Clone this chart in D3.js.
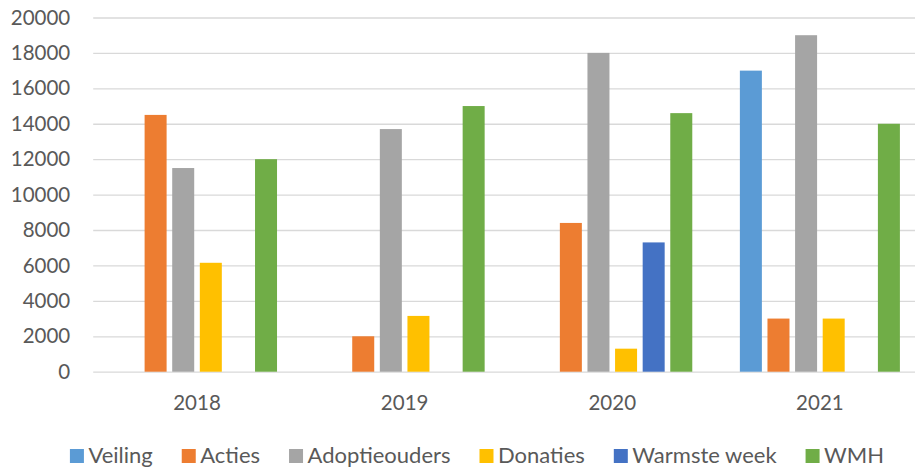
<!DOCTYPE html>
<html>
<head>
<meta charset="utf-8">
<script src="https://cdn.jsdelivr.net/npm/d3@7/dist/d3.min.js"></script>
<style>
  html, body { margin: 0; padding: 0; background: #fff; }
  svg { display: block; }
  text { font-family: Lato, "Open Sans", sans-serif; fill: #595959; }
</style>
</head>
<body>
<svg id="chart" width="915" height="469"></svg>
<script>
const years = ["2018", "2019", "2020", "2021"];
const seriesNames = ["Veiling", "Acties", "Adoptieouders", "Donaties", "Warmste week", "WMH"];
const veiling       = [null, null, null, 17000];
const acties        = [14500, 2000, 8400, 3000];
const adoptieouders = [11500, 13700, 18000, 19000];
const donaties      = [6150, 3150, 1300, 3000];
const warmsteWeek   = [null, null, 7300, null];
const wmh           = [12000, 15000, 14600, 14000];
const seriesColors  = ["#5B9BD5", "#ED7D31", "#A5A5A5", "#FFC000", "#4472C4", "#70AD47"];
const yTicks = [0, 2000, 4000, 6000, 8000, 10000, 12000, 14000, 16000, 18000, 20000];

const seriesValues = [veiling, acties, adoptieouders, donaties, warmsteWeek, wmh];

const svg = d3.select("#chart");
const fontSize = 20.5;

const x0 = d3.scaleBand().domain(years).range([93.2, 923.7]).padding(0);
const x1 = d3.scaleBand().domain(seriesNames).range([0, x0.bandwidth()])
  .paddingInner(0.203).paddingOuter(0.862);
const y = d3.scaleLinear().domain([0, 20000]).range([371.7, 17.5]);

// gridlines
const yAxis = d3.axisLeft(y).tickValues(yTicks).tickSize(-(915 - 93.2)).tickFormat(d => d).tickPadding(23);
const gy = svg.append("g").attr("transform", "translate(93.2,0)").call(yAxis);
gy.select(".domain").remove();
gy.selectAll(".tick line").attr("stroke", "#d9d9d9").attr("stroke-width", 1.3);
gy.selectAll(".tick text").attr("font-size", fontSize).attr("fill", "#595959")
  .style("font-family", "Lato, 'Open Sans', sans-serif");

// bars
const groups = svg.append("g").selectAll("g").data(years).join("g")
  .attr("transform", d => `translate(${x0(d)},0)`);
groups.selectAll("rect")
  .data((yr, i) => seriesNames.map((s, k) => ({ s, k, v: seriesValues[k][i] })).filter(d => d.v != null))
  .join("rect")
  .attr("x", d => x1(d.s))
  .attr("width", x1.bandwidth())
  .attr("y", d => y(d.v))
  .attr("height", d => y(0) - y(d.v))
  .attr("fill", d => seriesColors[d.k]);

// x axis labels
const xAxis = d3.axisBottom(x0).tickSize(0).tickPadding(0);
const gx = svg.append("g").attr("transform", `translate(0,${y(0)})`).call(xAxis);
gx.select(".domain").remove();
gx.selectAll(".tick text").attr("font-size", fontSize).attr("fill", "#595959")
  .attr("dy", null).attr("y", 38.3)
  .style("font-family", "Lato, 'Open Sans', sans-serif");

// legend
const legend = svg.append("g");
const items = legend.selectAll("g").data(seriesNames).join("g");
items.append("rect").attr("width", 14).attr("height", 14).attr("y", 449)
  .attr("fill", (d, i) => seriesColors[i]);
items.append("text").attr("x", 18.5).attr("y", 462.7).attr("font-size", fontSize + 1.5).text(d => d);
let widths = [];
items.each(function () { widths.push(d3.select(this).select("text").node().getComputedTextLength()); });
const gap = 29;
let total = widths.reduce((a, w) => a + 18.5 + w, 0) + gap * (widths.length - 1);
let cx = 477 - total / 2;
items.attr("transform", (d, i) => {
  const t = `translate(${cx},0)`;
  cx += 18.5 + widths[i] + gap;
  return t;
});
</script>
</body>
</html>
